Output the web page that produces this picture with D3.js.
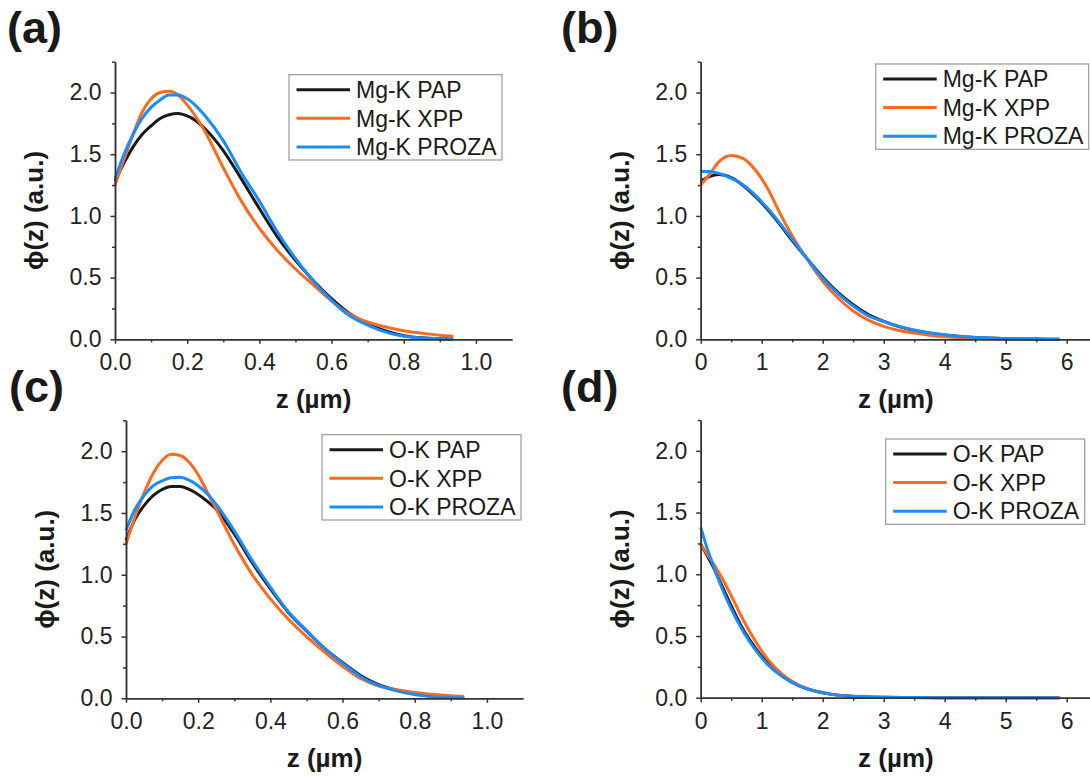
<!DOCTYPE html>
<html>
<head>
<meta charset="utf-8">
<script src="https://cdn.jsdelivr.net/npm/d3@7"></script>
<style>
  body { margin: 0; background: #fff; }
  svg { display: block; font-family: "Liberation Sans", Arial, sans-serif; }
</style>
</head>
<body>
<div id="chart"></div>
<script>
// depth grids (um) and phi(z) values
const zMgThin = [0, 0.025, 0.05, 0.075, 0.1, 0.125, 0.15, 0.175, 0.2, 0.225, 0.25, 0.3, 0.35, 0.4, 0.45, 0.5, 0.55, 0.6, 0.65, 0.7, 0.75, 0.8, 0.85, 0.9, 0.937];
const mgPapThin   = [1.28, 1.43, 1.56, 1.66, 1.73, 1.79, 1.82, 1.83, 1.81, 1.77, 1.705, 1.53, 1.30, 1.06, 0.83, 0.64, 0.475, 0.33, 0.21, 0.125, 0.068, 0.03, 0.012, 0.005, 0.003];
const mgXppThin   = [1.25, 1.46, 1.66, 1.84, 1.95, 2.0, 2.01, 1.98, 1.90, 1.80, 1.68, 1.39, 1.12, 0.90, 0.72, 0.57, 0.44, 0.31, 0.205, 0.14, 0.10, 0.07, 0.05, 0.033, 0.024];
const mgProzaThin = [1.30, 1.50, 1.66, 1.79, 1.88, 1.94, 1.98, 1.98, 1.95, 1.89, 1.81, 1.61, 1.35, 1.12, 0.87, 0.655, 0.47, 0.315, 0.19, 0.115, 0.058, 0.025, 0.01, 0.006, 0.005];

const zMgThick = [0, 0.15, 0.3, 0.5, 0.7, 0.9, 1.1, 1.3, 1.5, 1.75, 2, 2.25, 2.5, 2.75, 3, 3.25, 3.5, 3.75, 4, 4.5, 5, 5.5, 5.88];
const mgPapThick   = [1.28, 1.32, 1.335, 1.31, 1.245, 1.155, 1.05, 0.93, 0.80, 0.65, 0.505, 0.38, 0.28, 0.2, 0.145, 0.103, 0.072, 0.05, 0.034, 0.014, 0.005, 0.002, 0.001];
const mgXppThick   = [1.25, 1.34, 1.44, 1.49, 1.465, 1.37, 1.22, 1.02, 0.84, 0.645, 0.47, 0.335, 0.23, 0.155, 0.105, 0.072, 0.05, 0.033, 0.02, 0.008, 0.003, 0.001, 0.0];
const mgProzaThick = [1.36, 1.36, 1.345, 1.305, 1.25, 1.165, 1.06, 0.94, 0.81, 0.65, 0.495, 0.37, 0.27, 0.19, 0.145, 0.105, 0.075, 0.053, 0.036, 0.015, 0.006, 0.002, 0.001];

const zOThin = [0, 0.025, 0.05, 0.075, 0.1, 0.125, 0.15, 0.175, 0.2, 0.225, 0.25, 0.3, 0.35, 0.4, 0.45, 0.5, 0.55, 0.6, 0.65, 0.7, 0.75, 0.8, 0.85, 0.9, 0.937];
const oPapThin   = [1.28, 1.45, 1.56, 1.64, 1.69, 1.715, 1.715, 1.69, 1.65, 1.595, 1.53, 1.33, 1.095, 0.885, 0.695, 0.545, 0.405, 0.29, 0.185, 0.11, 0.065, 0.035, 0.016, 0.008, 0.005];
const oXppThin   = [1.25, 1.47, 1.66, 1.82, 1.925, 1.975, 1.965, 1.91, 1.81, 1.67, 1.53, 1.245, 1.00, 0.805, 0.64, 0.50, 0.375, 0.26, 0.16, 0.10, 0.07, 0.047, 0.032, 0.02, 0.015];
const oProzaThin = [1.36, 1.53, 1.64, 1.72, 1.76, 1.785, 1.79, 1.765, 1.72, 1.655, 1.57, 1.355, 1.115, 0.90, 0.70, 0.55, 0.405, 0.285, 0.175, 0.105, 0.06, 0.03, 0.012, 0.006, 0.004];

const zOThick = [0, 0.1, 0.2, 0.35, 0.5, 0.7, 0.9, 1.1, 1.35, 1.6, 1.85, 2.1, 2.45, 2.85, 3.5, 4.5, 5.88];
const oPapThick   = [1.245, 1.155, 1.065, 0.905, 0.745, 0.55, 0.40, 0.278, 0.172, 0.10, 0.057, 0.031, 0.012, 0.004, 0.001, 0, 0];
const oXppThick   = [1.245, 1.167, 1.093, 0.97, 0.827, 0.628, 0.455, 0.31, 0.185, 0.105, 0.058, 0.031, 0.011, 0.004, 0.001, 0, 0];
const oProzaThick = [1.38, 1.22, 1.08, 0.885, 0.72, 0.535, 0.385, 0.268, 0.167, 0.098, 0.056, 0.031, 0.013, 0.005, 0.001, 0, 0];

const mgLabels = ["Mg-K PAP", "Mg-K XPP", "Mg-K PROZA"];
const oLabels = ["O-K PAP", "O-K XPP", "O-K PROZA"];
const seriesColors = ["#1a1a1a", "#ff6a21", "#1a8cff"];

const yTicks = [0, 0.5, 1, 1.5, 2];
const yMinor = [0.25, 0.75, 1.25, 1.75, 2.25];
const thinTicks = [0, 0.2, 0.4, 0.6, 0.8, 1.0];
const thinMinor = [0.1, 0.3, 0.5, 0.7, 0.9];
const thickTicks = [0, 1, 2, 3, 4, 5, 6];
const thickMinor = [0.5, 1.5, 2.5, 3.5, 4.5, 5.5];

const W = 1090, H = 779;
const svg = d3.select("#chart").append("svg")
    .attr("width", W)
    .attr("height", H);

const panels = [
    { tag: "(a)", tagX: 7, tagY: 43, left: 115, top: 61.7, bottom: 339.3, xMax: 1.1, width: 397,
      z: zMgThin, series: [mgPapThin, mgXppThin, mgProzaThin], names: mgLabels,
      xTicks: thinTicks, xMinor: thinMinor, fmt: ".1f", legend: { x: 174, y: 13, w: 213 } },
    { tag: "(b)", tagX: 561, tagY: 43, left: 700.7, top: 61.7, bottom: 339.3, xMax: 6.4, width: 390.4,
      z: zMgThick, series: [mgPapThick, mgXppThick, mgProzaThick], names: mgLabels,
      xTicks: thickTicks, xMinor: thickMinor, fmt: "d", legend: { x: 175, y: 2.3, w: 213 } },
    { tag: "(c)", tagX: 9, tagY: 402, left: 126, top: 420.3, bottom: 698.3, xMax: 1.1, width: 397,
      z: zOThin, series: [oPapThin, oXppThin, oProzaThin], names: oLabels,
      xTicks: thinTicks, xMinor: thinMinor, fmt: ".1f", legend: { x: 196, y: 14.4, w: 199 } },
    { tag: "(d)", tagX: 561, tagY: 402, left: 700.7, top: 420, bottom: 697.7, xMax: 6.4, width: 390.4,
      z: zOThick, series: [oPapThick, oXppThick, oProzaThick], names: oLabels,
      xTicks: thickTicks, xMinor: thickMinor, fmt: "d", legend: { x: 185, y: 19, w: 199 } }
];

function drawPanel(p) {
    const h = p.bottom - p.top;
    const x = d3.scaleLinear().domain([0, p.xMax]).range([0, p.width]);
    const y = d3.scaleLinear().domain([0, 2.25]).range([h, 0]);

    const g = svg.append("g").attr("transform", `translate(${p.left},${p.top})`);

    // panel tag
    svg.append("text")
        .attr("x", p.tagX)
        .attr("y", p.tagY)
        .attr("font-size", 45)
        .attr("font-weight", "bold")
        .attr("fill", "#1a1a1a")
        .text(p.tag);

    // curves
    const line = d3.line()
        .x(d => x(d[0]))
        .y(d => y(d[1]))
        .curve(d3.curveMonotoneX);

    p.series.forEach((vals, i) => {
        g.append("path")
            .datum(p.z.map((zv, k) => [zv, vals[k]]))
            .attr("fill", "none")
            .attr("stroke", seriesColors[i])
            .attr("stroke-width", 3)
            .attr("stroke-linejoin", "round")
            .attr("d", line);
    });

    // axes: minor ticks first, then major with labels
    g.append("g")
        .attr("transform", `translate(0,${h})`)
        .call(d3.axisBottom(x).tickValues(p.xMinor).tickSize(3).tickSizeOuter(0).tickFormat(""));
    g.append("g")
        .call(d3.axisLeft(y).tickValues(yMinor).tickSize(3).tickSizeOuter(0).tickFormat(""));

    const xAxis = g.append("g")
        .attr("transform", `translate(0,${h})`)
        .call(d3.axisBottom(x).tickValues(p.xTicks).tickSize(4.5).tickSizeOuter(0)
            .tickPadding(10).tickFormat(d3.format(p.fmt)));
    const yAxis = g.append("g")
        .call(d3.axisLeft(y).tickValues(yTicks).tickSize(4.5).tickSizeOuter(0)
            .tickPadding(9).tickFormat(d3.format(".1f")));

    g.selectAll(".domain, .tick line")
        .attr("stroke", "#333")
        .attr("stroke-width", 1.5);
    [xAxis, yAxis].forEach(a => a.selectAll("text")
        .attr("font-size", 23)
        .attr("font-family", "'Liberation Sans', Arial, sans-serif")
        .attr("fill", "#222"));

    // axis titles
    g.append("text")
        .attr("x", p.width / 2)
        .attr("y", h + 69)
        .attr("text-anchor", "middle")
        .attr("font-size", 26)
        .attr("font-weight", "bold")
        .attr("fill", "#1a1a1a")
        .text("z (\u00b5m)");

    g.append("text")
        .attr("transform", `translate(-72,${h / 2 + 10}) rotate(-90)`)
        .attr("text-anchor", "middle")
        .attr("font-size", 26)
        .attr("font-weight", "bold")
        .attr("fill", "#1a1a1a")
        .text("\u03d5(z) (a.u.)");

    // legend
    const lg = g.append("g").attr("transform", `translate(${p.legend.x},${p.legend.y})`);
    lg.append("rect")
        .attr("width", p.legend.w)
        .attr("height", 85.3)
        .attr("fill", "#fff")
        .attr("stroke", "#999")
        .attr("stroke-width", 1.2);
    p.names.forEach((name, i) => {
        const ry = 15 + i * 28.6;
        lg.append("line")
            .attr("x1", 7.5).attr("x2", 61)
            .attr("y1", ry).attr("y2", ry)
            .attr("stroke", seriesColors[i])
            .attr("stroke-width", 3);
        lg.append("text")
            .attr("x", 67)
            .attr("y", ry)
            .attr("dy", "0.36em")
            .attr("font-size", 23)
            .attr("fill", "#1a1a1a")
            .text(name);
    });
}

panels.forEach(drawPanel);
</script>
</body>
</html>
